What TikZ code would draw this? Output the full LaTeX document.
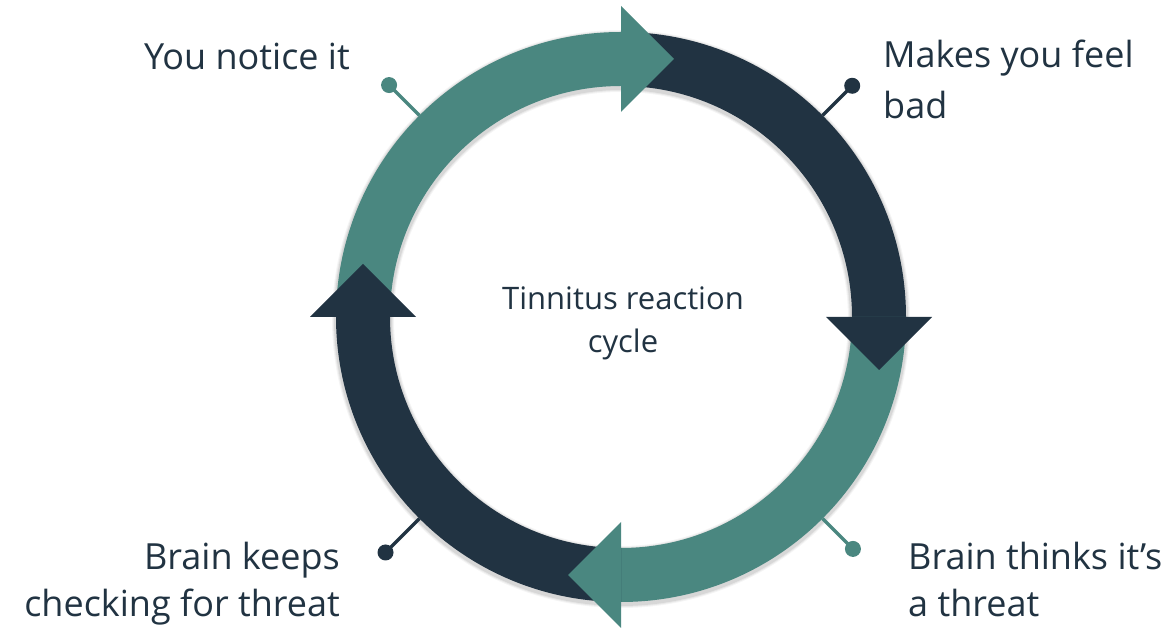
\documentclass[tikz,border=0pt]{standalone}
\usepackage{fontspec}
\setmainfont{Open Sans}
\definecolor{tealc}{HTML}{4A8780}
\definecolor{darkc}{HTML}{213342}
\definecolor{textc}{HTML}{213342}
\tikzset{
  lbl/.style={font=\fontsize{36}{40}\selectfont, text=textc, inner sep=0pt},
  clbl/.style={font=\fontsize{31}{33}\selectfont, text=textc, inner sep=0pt, anchor=base},
  dot/.style={circle, minimum size=16pt, inner sep=0pt},
  conn/.style={line width=3.5pt},
}
\begin{document}
\begin{tikzpicture}[x=1pt,y=1pt]
\useasboundingbox (0,0) rectangle (1171,629);
\fill[white] (0,0) rectangle (1171,629);
\coordinate (C) at (621,312);
% soft shadow of the ring
\foreach \w/\o in {62/0.04,60/0.05,58/0.07}{
  \draw[black, opacity=\o, line width=\w pt] ([yshift=-2pt]C) circle[radius=258];
}
% bodies
\foreach \rot/\col in {0/tealc,-90/darkc,-180/tealc,-270/darkc}{
  \fill[\col, shift={(C)}, rotate=\rot]
    (180:285) arc[start angle=180, end angle=90, radius=285]
    -- (0,231) arc[start angle=90, end angle=180, radius=231] -- cycle;
}
% heads
\foreach \rot/\col in {0/tealc,-90/darkc,-180/tealc,-270/darkc}{
  \fill[\col, shift={(C)}, rotate=\rot]
    (0,311) -- (53,258) -- (0,205) -- cycle;
}
% connectors
\coordinate (e1) at ([shift={(135:285)}]C);
\coordinate (e2) at ([shift={(45:285)}]C);
\coordinate (e3) at ([shift={(-45:285)}]C);
\coordinate (e4) at ([shift={(-135:285)}]C);
\node[dot, fill=tealc] (d1) at ([shift={(135:328)}]C) {};
\node[dot, fill=darkc] (d2) at ([shift={(45:327)}]C) {};
\node[dot, fill=tealc] (d3) at ([shift={(-45:328)}]C) {};
\node[dot, fill=darkc] (d4) at ([shift={(-135:333)}]C) {};
\draw[conn, tealc] (e1) -- (d1.center);
\draw[conn, darkc] (e2) -- (d2.center);
\draw[conn, tealc] (e3) -- (d3.center);
\draw[conn, darkc] (e4) -- (d4.center);
% labels
\node[lbl, anchor=base east] (t1) at (350,559) {You notice it};
\node[lbl, anchor=base west] (t2a) at (883,561) {Makes you feel};
\node[lbl, anchor=base west] (t2b) at (883,510) {bad};
\node[lbl, anchor=base west] (t3a) at (908,59) {Brain thinks it’s};
\node[lbl, anchor=base west] (t3b) at (908,12) {a threat};
\node[lbl, anchor=base east] (t4a) at (340,59) {Brain keeps};
\node[lbl, anchor=base east] (t4b) at (340,12) {checking for threat};
\node[clbl] (c1) at (623,319) {Tinnitus reaction};
\node[clbl] (c2) at (623,276) {cycle};
\end{tikzpicture}
\end{document}
